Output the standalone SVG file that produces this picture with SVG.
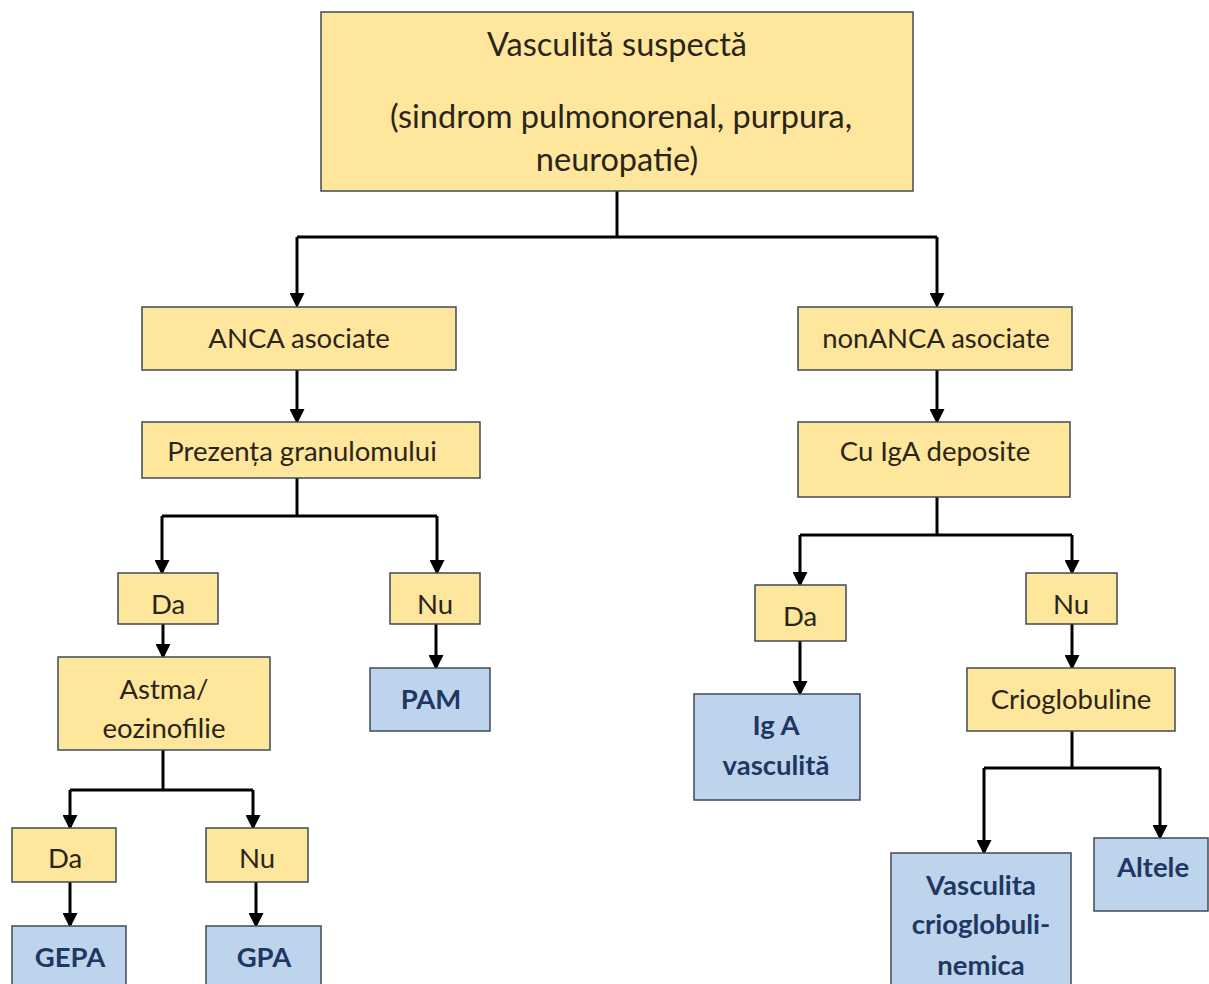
<svg xmlns="http://www.w3.org/2000/svg" width="1209" height="984" viewBox="0 0 1209 984">
<style>
.y{fill:#fee69c;stroke:#3f4a56;stroke-width:1.5}
.b{fill:#bed4ec;stroke:#3f4a56;stroke-width:1.5}
.t{font-family:Lato,"Open Sans",sans-serif;font-size:27.5px;fill:#2b2418;text-anchor:middle}
.tb{font-family:Lato,"Open Sans",sans-serif;font-size:27.5px;font-weight:bold;fill:#1f3763;text-anchor:middle}
.tt{font-size:32.5px}
.c{fill:none;stroke:#000;stroke-width:3}
</style>
<defs>
<marker id="ah" markerWidth="5" markerHeight="5" refX="4" refY="2.5" orient="auto" markerUnits="strokeWidth">
<path d="M0,0 L5,2.5 L0,5 Z" fill="#000"/>
</marker>
</defs>
<rect width="1209" height="984" fill="#fff"/>
<g id="connectors">
<path class="c" d="M617,191 V237"/>
<path class="c" d="M297,237 H937"/>
<path class="c" d="M297,237 V305" marker-end="url(#ah)"/>
<path class="c" d="M937,237 V305" marker-end="url(#ah)"/>
<path class="c" d="M297,370 V421" marker-end="url(#ah)"/>
<path class="c" d="M297,478 V516"/>
<path class="c" d="M162,516 H437"/>
<path class="c" d="M162,516 V572" marker-end="url(#ah)"/>
<path class="c" d="M437,516 V572" marker-end="url(#ah)"/>
<path class="c" d="M163,624 V656" marker-end="url(#ah)"/>
<path class="c" d="M436,624 V667" marker-end="url(#ah)"/>
<path class="c" d="M163,750 V790"/>
<path class="c" d="M70,790 H253"/>
<path class="c" d="M70,790 V827" marker-end="url(#ah)"/>
<path class="c" d="M253,790 V827" marker-end="url(#ah)"/>
<path class="c" d="M70,882 V925" marker-end="url(#ah)"/>
<path class="c" d="M256,882 V925" marker-end="url(#ah)"/>
<path class="c" d="M937,370 V421" marker-end="url(#ah)"/>
<path class="c" d="M937,497 V535"/>
<path class="c" d="M800,535 H1072"/>
<path class="c" d="M800,535 V584" marker-end="url(#ah)"/>
<path class="c" d="M1072,535 V572" marker-end="url(#ah)"/>
<path class="c" d="M800,641 V693" marker-end="url(#ah)"/>
<path class="c" d="M1072,624 V667" marker-end="url(#ah)"/>
<path class="c" d="M1072,731 V768"/>
<path class="c" d="M984,768 H1160"/>
<path class="c" d="M984,768 V852" marker-end="url(#ah)"/>
<path class="c" d="M1160,768 V837" marker-end="url(#ah)"/>
</g>
<g id="n_top"><rect class="y" x="321" y="12" width="592" height="179"/>
<text class="t tt" x="617" y="56">Vasculită suspectă</text>
<text class="t tt" x="621" y="128">(sindrom pulmonorenal, purpura,</text>
<text class="t tt" x="617" y="171">neuropatie)</text></g>
<g id="n_anca"><rect class="y" x="142" y="307" width="314" height="63"/><text class="t" x="299" y="348">ANCA asociate</text></g>
<g id="n_gran"><rect class="y" x="142" y="422" width="338" height="56"/><text class="t" x="302" y="461">Prezența granulomului</text></g>
<g id="n_da1"><rect class="y" x="118" y="573" width="100" height="51"/><text class="t" x="168" y="614">Da</text></g>
<g id="n_nu1"><rect class="y" x="390" y="573" width="90" height="51"/><text class="t" x="435" y="614">Nu</text></g>
<g id="n_astma"><rect class="y" x="58" y="657" width="212" height="93"/><text class="t" x="164" y="699">Astma/</text><text class="t" x="164" y="738">eozinofilie</text></g>
<g id="n_pam"><rect class="b" x="370" y="668" width="120" height="63"/><text class="tb" x="431" y="709">PAM</text></g>
<g id="n_da2"><rect class="y" x="12" y="828" width="104" height="54"/><text class="t" x="65" y="868">Da</text></g>
<g id="n_nu2"><rect class="y" x="206" y="828" width="102" height="54"/><text class="t" x="257" y="868">Nu</text></g>
<g id="n_gepa"><rect class="b" x="12" y="926" width="114" height="62"/><text class="tb" x="70" y="967">GEPA</text></g>
<g id="n_gpa"><rect class="b" x="206" y="926" width="115" height="62"/><text class="tb" x="264" y="967">GPA</text></g>
<g id="n_nonanca"><rect class="y" x="798" y="307" width="274" height="63"/><text class="t" x="936" y="348">nonANCA asociate</text></g>
<g id="n_iga"><rect class="y" x="798" y="422" width="272" height="75"/><text class="t" x="935" y="461">Cu IgA deposite</text></g>
<g id="n_da3"><rect class="y" x="755" y="585" width="91" height="56"/><text class="t" x="800" y="626">Da</text></g>
<g id="n_nu3"><rect class="y" x="1026" y="573" width="91" height="51"/><text class="t" x="1071" y="614">Nu</text></g>
<g id="n_igav"><rect class="b" x="694" y="694" width="166" height="106"/><text class="tb" x="776" y="735">Ig A</text><text class="tb" x="776" y="775">vasculită</text></g>
<g id="n_crio"><rect class="y" x="967" y="668" width="208" height="63"/><text class="t" x="1071" y="709">Crioglobuline</text></g>
<g id="n_vc"><rect class="b" x="891" y="853" width="180" height="135"/><text class="tb" x="981" y="895">Vasculita</text><text class="tb" x="981" y="934">crioglobuli-</text><text class="tb" x="981" y="975">nemica</text></g>
<g id="n_altele"><rect class="b" x="1094" y="838" width="114" height="73"/><text class="tb" x="1153" y="877">Altele</text></g>
</svg>
